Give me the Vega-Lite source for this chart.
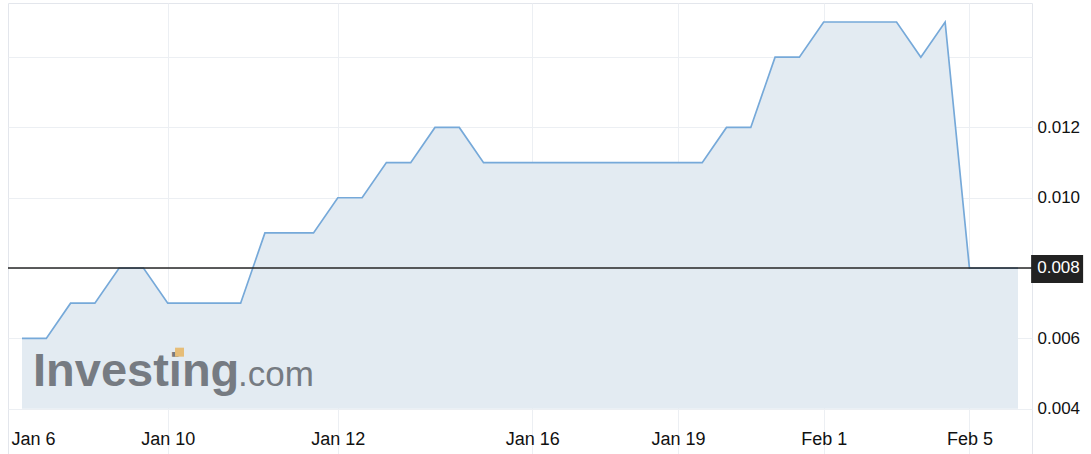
{
  "$schema": "https://vega.github.io/schema/vega-lite/v6.json",
  "width": 1024,
  "height": 451,
  "autosize": {"type": "none"},
  "padding": {"left": 8, "top": 3, "right": 59, "bottom": 0},
  "background": "#ffffff",
  "config": {
    "view": {"stroke": "#e3e6ec", "strokeWidth": 1},
    "font": "Liberation Sans",
    "axis": {"labelFont": "Liberation Sans", "title": null}
  },
  "datasets": {
    "prices": [
      {"i": 0, "price": 0.006}, {"i": 1, "price": 0.006}, {"i": 2, "price": 0.007}, {"i": 3, "price": 0.007},
      {"i": 4, "price": 0.008}, {"i": 5, "price": 0.008}, {"i": 6, "price": 0.007}, {"i": 7, "price": 0.007},
      {"i": 8, "price": 0.007}, {"i": 9, "price": 0.007}, {"i": 10, "price": 0.009}, {"i": 11, "price": 0.009},
      {"i": 12, "price": 0.009}, {"i": 13, "price": 0.010}, {"i": 14, "price": 0.010}, {"i": 15, "price": 0.011},
      {"i": 16, "price": 0.011}, {"i": 17, "price": 0.012}, {"i": 18, "price": 0.012}, {"i": 19, "price": 0.011},
      {"i": 20, "price": 0.011}, {"i": 21, "price": 0.011}, {"i": 22, "price": 0.011}, {"i": 23, "price": 0.011},
      {"i": 24, "price": 0.011}, {"i": 25, "price": 0.011}, {"i": 26, "price": 0.011}, {"i": 27, "price": 0.011},
      {"i": 28, "price": 0.011}, {"i": 29, "price": 0.012}, {"i": 30, "price": 0.012}, {"i": 31, "price": 0.014},
      {"i": 32, "price": 0.014}, {"i": 33, "price": 0.015}, {"i": 34, "price": 0.015}, {"i": 35, "price": 0.015},
      {"i": 36, "price": 0.015}, {"i": 37, "price": 0.014}, {"i": 38, "price": 0.015}, {"i": 39, "price": 0.008},
      {"i": 40, "price": 0.008}, {"i": 41, "price": 0.008}
    ],
    "one": [{"k": 1}]
  },
  "layer": [
    {
      "data": {"name": "prices"},
      "mark": {"type": "area", "color": "#e3ebf2", "opacity": 1},
      "encoding": {
        "x": {
          "field": "i", "type": "quantitative",
          "scale": {"domain": [-0.576, 41.576], "nice": false, "zero": false},
          "axis": {
            "orient": "bottom",
            "values": [0, 6, 13, 21, 27, 33, 39],
            "labelExpr": "datum.value == 0 ? 'Jan 6' : datum.value == 6 ? 'Jan 10' : datum.value == 13 ? 'Jan 12' : datum.value == 21 ? 'Jan 16' : datum.value == 27 ? 'Jan 19' : datum.value == 33 ? 'Feb 1' : 'Feb 5'",
            "domain": false,
            "ticks": false,
            "tickSize": 0,
            "labelPadding": -10,
            "labelBaseline": "alphabetic",
            "labelFontSize": 18,
            "labelColor": "#111111",
            "labelOffset": {"condition": {"test": "datum.value == 0", "value": 11}, "value": 0},
            "labelFlush": false,
            "labelOverlap": false,
            "grid": true,
            "gridColor": "#eceff3",
            "gridOpacity": {"condition": {"test": "datum.value == 0", "value": 0}, "value": 1},
            "gridWidth": 1
          }
        },
        "y": {
          "field": "price", "type": "quantitative",
          "scale": {"domain": [0.00271, 0.015541], "nice": false, "zero": false},
          "axis": {
            "orient": "right",
            "values": [0.004, 0.006, 0.008, 0.010, 0.012, 0.014],
            "labelExpr": "(datum.value > 0.0135 || abs(datum.value - 0.008) < 0.0000001) ? '' : format(datum.value, '.3f')",
            "domain": false,
            "ticks": false,
            "tickSize": 0,
            "labelPadding": 5,
            "labelFontSize": 17,
            "labelColor": "#111111",
            "labelAlign": "left",
            "labelBaseline": "middle",
            "labelOverlap": false,
            "grid": true,
            "gridColor": "#eceff3",
            "gridWidth": 1
          }
        },
        "y2": {"datum": 0.004}
      }
    },
    {
      "data": {"name": "prices"},
      "mark": {"type": "line", "color": "#76a9d9", "strokeWidth": 1.7},
      "encoding": {
        "x": {"field": "i", "type": "quantitative", "scale": {"domain": [-0.576, 41.576], "nice": false, "zero": false}},
        "y": {"field": "price", "type": "quantitative", "scale": {"domain": [0.00271, 0.015541], "nice": false, "zero": false}}
      }
    },
    {
      "data": {"name": "one"},
      "mark": {"type": "text", "text": "Investing", "font": "Liberation Sans", "fontWeight": "bold", "fontSize": 47, "color": "#767b82", "align": "left", "baseline": "alphabetic"},
      "encoding": {
        "x": {"datum": 0.453, "type": "quantitative", "scale": {"domain": [-0.576, 41.576], "nice": false, "zero": false}},
        "y": {"datum": 0.004654, "type": "quantitative", "scale": {"domain": [0.00271, 0.015541], "nice": false, "zero": false}}
      }
    },
    {
      "data": {"name": "one"},
      "mark": {"type": "text", "text": ".com", "font": "Liberation Sans", "fontSize": 35, "color": "#767b82", "align": "left", "baseline": "alphabetic"},
      "encoding": {
        "x": {"datum": 8.893, "type": "quantitative", "scale": {"domain": [-0.576, 41.576], "nice": false, "zero": false}},
        "y": {"datum": 0.004654, "type": "quantitative", "scale": {"domain": [0.00271, 0.015541], "nice": false, "zero": false}}
      }
    },
    {
      "data": {"name": "one"},
      "mark": {"type": "rect", "color": "#e6bd78"},
      "encoding": {
        "x": {"datum": 6.3, "type": "quantitative", "scale": {"domain": [-0.576, 41.576], "nice": false, "zero": false}},
        "x2": {"datum": 6.67},
        "y": {"datum": 0.005735, "type": "quantitative", "scale": {"domain": [0.00271, 0.015541], "nice": false, "zero": false}},
        "y2": {"datum": 0.005479}
      }
    },
    {
      "data": {"name": "one"},
      "mark": {"type": "rule", "color": "#262626", "strokeWidth": 1.6},
      "encoding": {
        "y": {"datum": 0.008, "type": "quantitative", "scale": {"domain": [0.00271, 0.015541], "nice": false, "zero": false}}
      }
    },
    {
      "data": {"name": "one"},
      "mark": {"type": "rect", "color": "#222222"},
      "encoding": {
        "x": {"datum": 41.54, "type": "quantitative", "scale": {"domain": [-0.576, 41.576], "nice": false, "zero": false}},
        "x2": {"datum": 43.68},
        "y": {"datum": 0.00837, "type": "quantitative", "scale": {"domain": [0.00271, 0.015541], "nice": false, "zero": false}},
        "y2": {"datum": 0.007573}
      }
    },
    {
      "data": {"name": "one"},
      "mark": {"type": "text", "text": "0.008", "font": "Liberation Sans", "fontSize": 17, "color": "#ffffff", "align": "left", "baseline": "middle"},
      "encoding": {
        "x": {"datum": 41.79, "type": "quantitative", "scale": {"domain": [-0.576, 41.576], "nice": false, "zero": false}},
        "y": {"datum": 0.008, "type": "quantitative", "scale": {"domain": [0.00271, 0.015541], "nice": false, "zero": false}}
      }
    },
    {
      "data": {"name": "one"},
      "mark": {"type": "text", "text": "0.0M", "font": "Liberation Sans", "fontSize": 17, "color": "#111111", "align": "left", "baseline": "top"},
      "encoding": {
        "x": {"datum": 41.79, "type": "quantitative", "scale": {"domain": [-0.576, 41.576], "nice": false, "zero": false}},
        "y": {"datum": 0.00275, "type": "quantitative", "scale": {"domain": [0.00271, 0.015541], "nice": false, "zero": false}}
      }
    }
  ]
}
